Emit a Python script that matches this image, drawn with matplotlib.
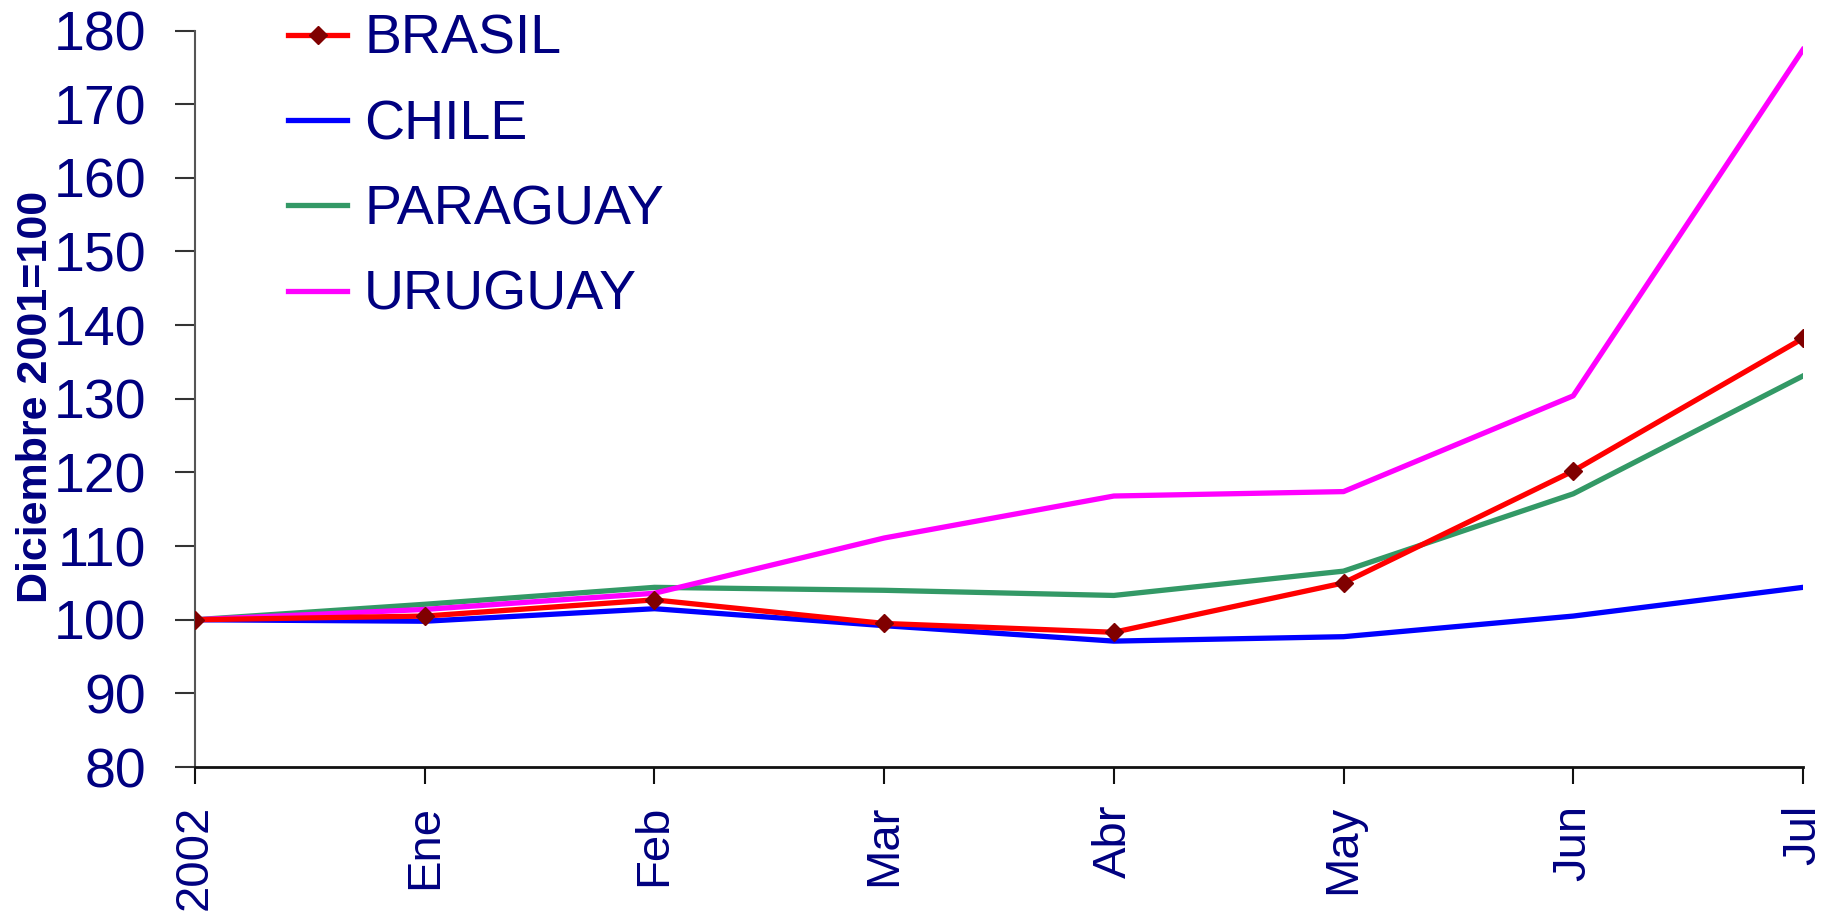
import matplotlib
matplotlib.use("Agg")
import matplotlib.pyplot as plt

plt.rcParams['font.family'] = ['Liberation Sans', 'DejaVu Sans']

meses = ["2002", "Ene", "Feb", "Mar", "Abr", "May", "Jun", "Jul"]
brasil = [100, 100.5, 102.7, 99.5, 98.3, 105.0, 120.2, 138.2]
chile = [100, 99.8, 101.5, 99.2, 97.1, 97.7, 100.5, 104.4]
paraguay = [100, 102.1, 104.4, 104.0, 103.3, 106.6, 117.1, 133.1]
uruguay = [100, 101.4, 103.6, 111.1, 116.8, 117.4, 130.4, 177.4]

navy = '#000080'
x = list(range(len(meses)))

fig = plt.figure(figsize=(18.3, 9.11), dpi=100)
ax = fig.add_axes([0.1066, 0.158, 0.8786, 0.8085])

ax.plot(x, brasil, color='#FF0000', lw=3.8, marker='D', ms=9.5,
        mfc='#800000', mec='#800000', label='BRASIL', zorder=3)
ax.plot(x, chile, color='#0000FF', lw=3.8, label='CHILE', zorder=2)
ax.plot(x, paraguay, color='#339966', lw=3.8, label='PARAGUAY', zorder=2)
ax.plot(x, uruguay, color='#FF00FF', lw=3.8, label='URUGUAY', zorder=2)

ax.set_xlim(0, 7)
ax.set_ylim(80, 180)
ax.set_yticks(range(80, 181, 10))
ax.set_xticks(x)
ax.set_xticklabels(meses, rotation=90, fontsize=34, color=navy)
ax.tick_params(axis='y', labelsize=40, labelcolor=navy, length=14.4, width=1.5,
               direction='out', pad=21, color='#333333')
ax.tick_params(axis='x', length=12, width=1.5, direction='out', pad=15,
               color='#111111')

ax.spines['top'].set_visible(False)
ax.spines['right'].set_visible(False)
ax.spines['left'].set_color('#555555')
ax.spines['bottom'].set_color('#111111')
ax.spines['left'].set_linewidth(1.5)
ax.spines['bottom'].set_linewidth(2)

fig.text(36 / 1830, 1 - 397 / 911, 'Diciembre 2001=100', rotation=90,
         ha='center', va='center', fontsize=31, fontweight='bold', color=navy)

ax.legend(loc='upper left', bbox_to_anchor=(288 / 1830, 1 - 14 / 911),
          bbox_transform=fig.transFigure, borderaxespad=0, borderpad=0,
          handlelength=1.07, handletextpad=0.3, labelspacing=0.6,
          frameon=False, fontsize=40, labelcolor=navy)

fig.savefig("out.png", dpi=100)
